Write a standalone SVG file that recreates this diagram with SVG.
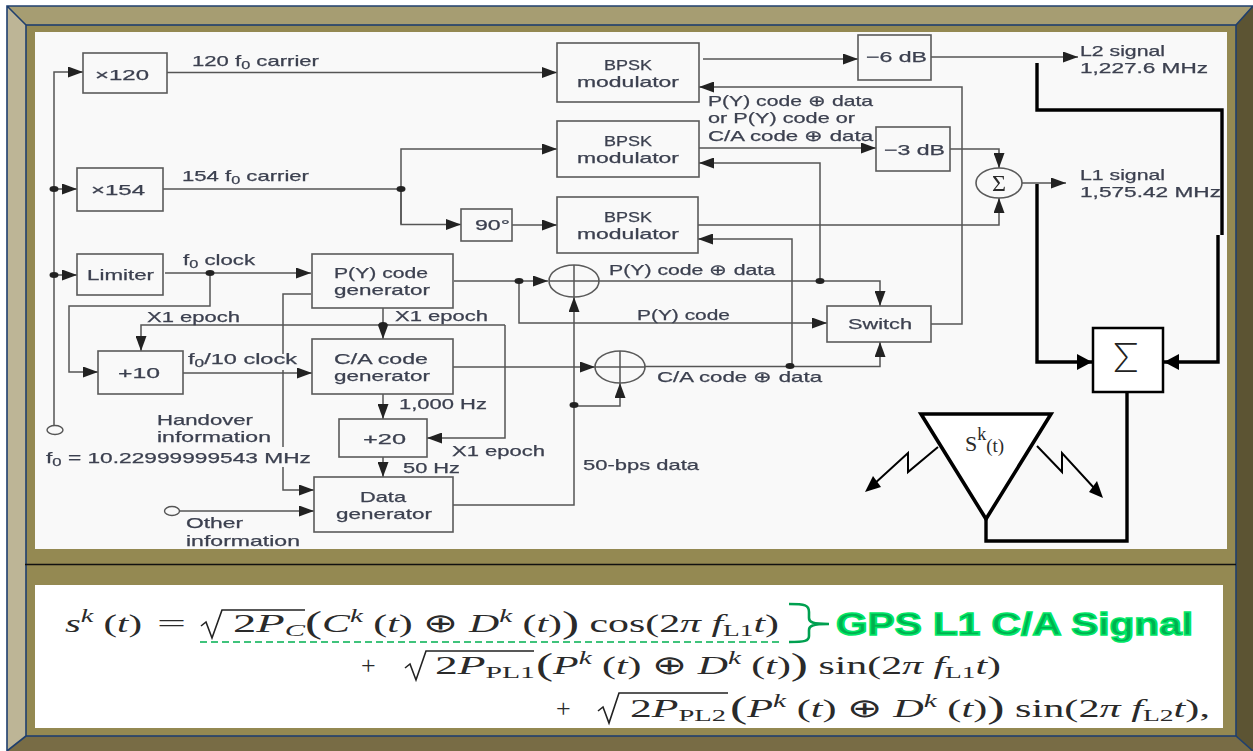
<svg xmlns="http://www.w3.org/2000/svg" width="1253" height="751" viewBox="0 0 1253 751">
<style>
.t{font-family:"Liberation Sans",Arial,sans-serif;font-size:15px;fill:#3c4150;stroke:#3c4150;stroke-width:.25}
.c{text-anchor:middle}
.b{fill:#f9f9f9;stroke:#5a5a5a;stroke-width:1.6}
.l{fill:none;stroke:#555;stroke-width:1.5}
.a{marker-end:url(#ah)}
.k{fill:none;stroke:#000;stroke-width:3.4}
.ka{marker-end:url(#kh)}
.z{fill:none;stroke:#000;stroke-width:2}
.d{fill:#222}
.m{font-family:"Liberation Serif",serif;fill:#2a2a2a}
.f{font-family:"Liberation Serif",serif;font-size:26px;fill:#2a2a2a}
.i{font-style:italic}
.frame{fill:none;stroke:#1f3f6e;stroke-width:1.6}
</style>
<defs>
<marker id="ah" markerUnits="userSpaceOnUse" markerWidth="15" markerHeight="11" refX="15" refY="5.5" orient="auto"><path d="M0 0L15 5.5L0 11Z" fill="#222"/></marker>
<marker id="kh" markerUnits="userSpaceOnUse" markerWidth="16" markerHeight="16" refX="15" refY="8" orient="auto"><path d="M0 0L15 8L0 16Z" fill="#000"/></marker>
<filter id="soft" x="-5%" y="-5%" width="110%" height="110%"><feGaussianBlur stdDeviation="0.45"/></filter>
</defs>
<g id="frame">
<rect width="1253" height="751" fill="#fff"/>
<polygon points="7,6 1253,6 1236,25 26,25" fill="#a69d72"/>
<polygon points="7,6 26,25 26,736 7,751" fill="#bdb596"/>
<polygon points="1253,6 1253,751 1236,736 1236,25" fill="#5c5433"/>
<polygon points="7,751 26,736 1236,736 1253,751" fill="#786c45"/>
<rect x="26" y="25" width="1210" height="711" fill="#948952"/>
<path class="frame" d="M7 751V6H1253M7 6L26 25M1253 6L1236 25M7 751L26 736M1253 751L1236 736"/>
<rect class="frame" x="26" y="25" width="1210" height="711"/>
<path d="M25 564.500H1236" stroke="#111" stroke-width="1.500"/>
<rect x="35" y="32" width="1192" height="517" fill="#f9f9f9"/>
<rect x="35" y="585" width="1188" height="143" fill="#fff"/>
</g>
<g id="diagram" filter="url(#soft)">
<g id="connectors">
<path class="l a" d="M54 425V72H83"/>
<path class="l a" d="M54 189H77"/>
<path class="l a" d="M54 275H77"/>
<path class="l a" d="M167 72.500H557"/>
<path class="l" d="M163 189H401"/>
<path class="l a" d="M401 224V149H557"/>
<path class="l a" d="M401 189V224.500H461"/>
<path class="l a" d="M512 225H557"/>
<path class="l a" d="M165 273H311"/>
<path class="l a" d="M210 273V306H69V372H98"/>
<path class="l a" d="M183 373H312"/>
<path class="l a" d="M454 281H548"/>
<path class="l a" d="M519 281V323H827"/>
<path class="l a" d="M599 281H880V306"/>
<path class="l a" d="M820 281V163H699"/>
<path class="l a" d="M792 366V239H698"/>
<path class="l a" d="M453 367H595"/>
<path class="l a" d="M645 366.500H880V342"/>
<path class="l" d="M311 294H283V354"/>
<path class="l" d="M283 370V447"/>
<path class="l a" d="M283 467V490H314"/>
<path class="l a" d="M383 308V339"/>
<path class="l a" d="M505 325H141V351"/>
<path class="l a" d="M505 325V438H427"/>
<path class="l a" d="M383 394V419"/>
<path class="l a" d="M383 457V477"/>
<path class="l a" d="M453 505H574V297"/>
<path class="l a" d="M574 406H620V383"/>
<path class="l a" d="M179 511H314"/>
<path class="l a" d="M703 59H858"/>
<path class="l a" d="M931 57H1078"/>
<path class="l a" d="M931 324H962V87H699"/>
<path class="l a" d="M699 148H876"/>
<path class="l a" d="M950 149H999V168"/>
<path class="l a" d="M698 225H999V198"/>
<path class="l a" d="M1022 183H1066"/>
<ellipse class="d" cx="54" cy="189" rx="4.500" ry="3"/>
<ellipse class="d" cx="54" cy="275" rx="4.500" ry="3"/>
<ellipse class="d" cx="401" cy="189" rx="4.500" ry="3"/>
<ellipse class="d" cx="210" cy="273" rx="4.500" ry="3"/>
<ellipse class="d" cx="519" cy="281" rx="4.500" ry="3"/>
<ellipse class="d" cx="820" cy="281" rx="4.500" ry="3"/>
<ellipse class="d" cx="790" cy="366" rx="4.500" ry="3"/>
<ellipse class="d" cx="383" cy="325" rx="4.500" ry="3"/>
<ellipse class="d" cx="574" cy="405" rx="4.500" ry="3"/>
<ellipse cx="55" cy="430" rx="8" ry="4.500" fill="#f9f9f9" stroke="#555" stroke-width="1.400"/>
<ellipse cx="172" cy="511" rx="7.500" ry="4.500" fill="#f9f9f9" stroke="#555" stroke-width="1.400"/>
</g>
<g id="n-x120"><rect class="b" x="83" y="53" width="84" height="40"/><text class="t" x="95" y="80" textLength="54" lengthAdjust="spacingAndGlyphs">×120</text></g>
<g id="n-x154"><rect class="b" x="77" y="168" width="86" height="43"/><text class="t" x="91" y="195" textLength="54" lengthAdjust="spacingAndGlyphs">×154</text></g>
<g id="n-limiter"><rect class="b" x="77" y="254" width="86" height="41"/><text class="t" x="87" y="280" textLength="67" lengthAdjust="spacingAndGlyphs">Limiter</text></g>
<g id="n-py"><rect class="b" x="312" y="254" width="141" height="54"/><text class="t" x="334" y="278" textLength="94" lengthAdjust="spacingAndGlyphs">P(Y) code</text><text class="t" x="334" y="295" textLength="96" lengthAdjust="spacingAndGlyphs">generator</text></g>
<g id="n-div10"><rect class="b" x="98" y="351" width="85" height="43"/><text class="t" x="118" y="378" textLength="42" lengthAdjust="spacingAndGlyphs">+10</text></g>
<g id="n-ca"><rect class="b" x="312" y="339" width="141" height="55"/><text class="t" x="334" y="364" textLength="94" lengthAdjust="spacingAndGlyphs">C/A code</text><text class="t" x="334" y="381" textLength="96" lengthAdjust="spacingAndGlyphs">generator</text></g>
<g id="n-div20"><rect class="b" x="339" y="419" width="88" height="38"/><text class="t" x="363" y="444" textLength="43" lengthAdjust="spacingAndGlyphs">+20</text></g>
<g id="n-data"><rect class="b" x="314" y="477" width="139" height="55"/><text class="t" x="360" y="502" textLength="46" lengthAdjust="spacingAndGlyphs">Data</text><text class="t" x="336" y="519" textLength="96" lengthAdjust="spacingAndGlyphs">generator</text></g>
<g id="n-bpsk1"><rect class="b" x="557" y="43" width="142" height="59"/><text class="t" x="604" y="70" textLength="48" lengthAdjust="spacingAndGlyphs">BPSK</text><text class="t" x="577" y="87" textLength="102" lengthAdjust="spacingAndGlyphs">modulator</text></g>
<g id="n-bpsk2"><rect class="b" x="557" y="121" width="142" height="56"/><text class="t" x="604" y="146" textLength="48" lengthAdjust="spacingAndGlyphs">BPSK</text><text class="t" x="577" y="163" textLength="102" lengthAdjust="spacingAndGlyphs">modulator</text></g>
<g id="n-bpsk3"><rect class="b" x="557" y="197" width="141" height="56"/><text class="t" x="604" y="222" textLength="48" lengthAdjust="spacingAndGlyphs">BPSK</text><text class="t" x="577" y="239" textLength="102" lengthAdjust="spacingAndGlyphs">modulator</text></g>
<g id="n-90"><rect class="b" x="461" y="209" width="51" height="32"/><text class="t" x="475" y="230" textLength="35" lengthAdjust="spacingAndGlyphs">90°</text></g>
<g id="n-6db"><rect class="b" x="858" y="35" width="73" height="45"/><text class="t" x="866" y="62" textLength="61" lengthAdjust="spacingAndGlyphs">−6 dB</text></g>
<g id="n-3db"><rect class="b" x="876" y="127" width="74" height="44"/><text class="t" x="884" y="155" textLength="61" lengthAdjust="spacingAndGlyphs">−3 dB</text></g>
<g id="n-sum1"><ellipse class="b" cx="999" cy="183" rx="23" ry="15"/><text class="m c" x="999" y="191" font-size="24">Σ</text></g>
<g id="n-switch"><rect class="b" x="827" y="306" width="104" height="36"/><text class="t" x="848" y="329" textLength="64" lengthAdjust="spacingAndGlyphs">Switch</text></g>
<g id="n-xor1"><ellipse class="b" cx="574" cy="281" rx="25" ry="16"/><path class="l" d="M574 265V297M549 281H599"/></g>
<g id="n-xor2"><ellipse class="b" cx="620" cy="367" rx="25" ry="16"/><path class="l" d="M620 351V383M595 367H645"/></g>
<g id="labels">
<text class="t" x="192" y="66" textLength="127" lengthAdjust="spacingAndGlyphs">120 f<tspan dy="3" font-size="11">0</tspan><tspan dy="-3"> carrier</tspan></text>
<text class="t" x="182" y="181" textLength="127" lengthAdjust="spacingAndGlyphs">154 f<tspan dy="3" font-size="11">0</tspan><tspan dy="-3"> carrier</tspan></text>
<text class="t" x="183" y="265" textLength="72" lengthAdjust="spacingAndGlyphs">f<tspan dy="3" font-size="11">0</tspan><tspan dy="-3"> clock</tspan></text>
<text class="t" x="188" y="364" textLength="109" lengthAdjust="spacingAndGlyphs">f<tspan dy="3" font-size="11">0</tspan><tspan dy="-3">/10 clock</tspan></text>
<text class="t" x="147" y="322" textLength="93" lengthAdjust="spacingAndGlyphs">X1 epoch</text>
<text class="t" x="395" y="321" textLength="93" lengthAdjust="spacingAndGlyphs">X1 epoch</text>
<text class="t" x="452" y="456" textLength="93" lengthAdjust="spacingAndGlyphs">X1 epoch</text>
<text class="t" x="399" y="409" textLength="88" lengthAdjust="spacingAndGlyphs">1,000 Hz</text>
<text class="t" x="403" y="473" textLength="57" lengthAdjust="spacingAndGlyphs">50 Hz</text>
<text class="t" x="583" y="470" textLength="116" lengthAdjust="spacingAndGlyphs">50-bps data</text>
<text class="t" x="157" y="425" textLength="96" lengthAdjust="spacingAndGlyphs">Handover</text>
<text class="t" x="157" y="442" textLength="114" lengthAdjust="spacingAndGlyphs">information</text>
<text class="t" x="46" y="463" textLength="265" lengthAdjust="spacingAndGlyphs">f<tspan dy="3" font-size="11">0</tspan><tspan dy="-3"> = 10.22999999543 MHz</tspan></text>
<text class="t" x="186" y="528" textLength="57" lengthAdjust="spacingAndGlyphs">Other</text>
<text class="t" x="186" y="546" textLength="114" lengthAdjust="spacingAndGlyphs">information</text>
<text class="t" x="708" y="106" textLength="165" lengthAdjust="spacingAndGlyphs">P(Y) code ⊕ data</text>
<text class="t" x="708" y="123" textLength="147" lengthAdjust="spacingAndGlyphs">or P(Y) code or</text>
<text class="t" x="708" y="141" textLength="165" lengthAdjust="spacingAndGlyphs">C/A code ⊕ data</text>
<text class="t" x="609" y="275" textLength="166" lengthAdjust="spacingAndGlyphs">P(Y) code ⊕ data</text>
<text class="t" x="637" y="320" textLength="93" lengthAdjust="spacingAndGlyphs">P(Y) code</text>
<text class="t" x="657" y="382" textLength="165" lengthAdjust="spacingAndGlyphs">C/A code ⊕ data</text>
<text class="t" x="1080" y="56" textLength="85" lengthAdjust="spacingAndGlyphs">L2 signal</text>
<text class="t" x="1080" y="73" textLength="128" lengthAdjust="spacingAndGlyphs">1,227.6 MHz</text>
<text class="t" x="1080" y="180" textLength="85" lengthAdjust="spacingAndGlyphs">L1 signal</text>
<text class="t" x="1080" y="197" textLength="141" lengthAdjust="spacingAndGlyphs">1,575.42 MHz</text>
</g>
</g>
<g id="overlay">
<path class="k" d="M1037 63V110H1222V235"/>
<path class="k ka" d="M1218 235V362H1164"/>
<path class="k ka" d="M1037 184V362H1092"/>
<path class="k" d="M1127 392V541H986V519"/>
<g id="n-sum2"><rect x="1093" y="328" width="70" height="64" fill="#fff" stroke="#000" stroke-width="2.500"/><text x="1126" y="372" font-family="Lato,'Open Sans',sans-serif" font-weight="300" font-size="42" text-anchor="middle" fill="#222">Σ</text></g>
<g id="n-antenna"><polygon points="921,414 1051,414 986,519" fill="#fff" stroke="#000" stroke-width="3.600"/><text class="m" x="965" y="451" font-size="22">S<tspan font-size="18" dy="-11">k</tspan><tspan font-size="19" dy="12">(t)</tspan></text></g>
<path class="z" d="M938 447L908 472V453L873 485"/>
<path class="z" d="M1037 446L1062 472V453L1095 489"/>
<polygon points="865,492 873,476 881,487" fill="#000"/>
<polygon points="1103,498 1089,492 1097,481" fill="#000"/>
</g>
<g id="formula">
<text class="f" x="65" y="632" textLength="77" lengthAdjust="spacingAndGlyphs"><tspan class="i">s</tspan><tspan class="i" font-size="18" dy="-10">k</tspan><tspan dy="10"> (</tspan><tspan class="i">t</tspan><tspan>)</tspan></text>
<text class="f" x="157" y="632" textLength="29" lengthAdjust="spacingAndGlyphs">=</text>
<path d="M201 626L206 622L212 638L222 610H305" fill="none" stroke="#222" stroke-width="1.600"/>
<text class="f" x="233" y="632" textLength="72" lengthAdjust="spacingAndGlyphs">2<tspan class="i">P</tspan><tspan class="i" font-size="17" dy="4">C</tspan></text>
<text class="f" x="305" y="632" textLength="474" lengthAdjust="spacingAndGlyphs"><tspan font-size="32" dy="1">(</tspan><tspan class="i" dy="-1">C</tspan><tspan class="i" font-size="18" dy="-10">k</tspan><tspan dy="10"> (</tspan><tspan class="i">t</tspan><tspan>) ⊕ </tspan><tspan class="i">D</tspan><tspan class="i" font-size="18" dy="-10">k</tspan><tspan dy="10"> (</tspan><tspan class="i">t</tspan><tspan>)</tspan><tspan font-size="32" dy="1">)</tspan><tspan dy="-1"> cos(2</tspan><tspan class="i">π f</tspan><tspan font-size="17" dy="4">L1</tspan><tspan class="i" dy="-4">t</tspan><tspan>)</tspan></text>
<text class="f" x="361" y="674">+</text>
<path d="M405 668L410 664L416 680L426 651H534" fill="none" stroke="#222" stroke-width="1.600"/>
<text class="f" x="435" y="674" textLength="100" lengthAdjust="spacingAndGlyphs">2<tspan class="i">P</tspan><tspan font-size="17" dy="4">PL1</tspan></text>
<text class="f" x="536" y="674" textLength="465" lengthAdjust="spacingAndGlyphs"><tspan font-size="32" dy="1">(</tspan><tspan class="i" dy="-1">P</tspan><tspan class="i" font-size="18" dy="-10">k</tspan><tspan dy="10"> (</tspan><tspan class="i">t</tspan><tspan>) ⊕ </tspan><tspan class="i">D</tspan><tspan class="i" font-size="18" dy="-10">k</tspan><tspan dy="10"> (</tspan><tspan class="i">t</tspan><tspan>)</tspan><tspan font-size="32" dy="1">)</tspan><tspan dy="-1"> sin(2</tspan><tspan class="i">π f</tspan><tspan font-size="17" dy="4">L1</tspan><tspan class="i" dy="-4">t</tspan><tspan>)</tspan></text>
<text class="f" x="556" y="717">+</text>
<path d="M598 711L603 707L609 723L619 693H728" fill="none" stroke="#222" stroke-width="1.600"/>
<text class="f" x="630" y="717" textLength="96" lengthAdjust="spacingAndGlyphs">2<tspan class="i">P</tspan><tspan font-size="17" dy="4">PL2</tspan></text>
<text class="f" x="730" y="717" textLength="480" lengthAdjust="spacingAndGlyphs"><tspan font-size="32" dy="1">(</tspan><tspan class="i" dy="-1">P</tspan><tspan class="i" font-size="18" dy="-10">k</tspan><tspan dy="10"> (</tspan><tspan class="i">t</tspan><tspan>) ⊕ </tspan><tspan class="i">D</tspan><tspan class="i" font-size="18" dy="-10">k</tspan><tspan dy="10"> (</tspan><tspan class="i">t</tspan><tspan>)</tspan><tspan font-size="32" dy="1">)</tspan><tspan dy="-1"> sin(2</tspan><tspan class="i">π f</tspan><tspan font-size="17" dy="4">L2</tspan><tspan class="i" dy="-4">t</tspan><tspan>),</tspan></text>
<path d="M200 642H783" stroke="#00b050" stroke-width="1.600" stroke-dasharray="7 4" fill="none"/>
<path d="M789 604C805 604 809 605 809 612V618C809 622 812 624 829 624C812 624 809 626 809 630V636C809 641 805 642 789 642" fill="none" stroke="#00a050" stroke-width="2.600"/>
<text x="836" y="635" textLength="357" lengthAdjust="spacingAndGlyphs" font-family="Liberation Sans, sans-serif" font-weight="bold" font-size="32" fill="#00b050" stroke="#00e868" stroke-width="1.500">GPS L1 C/A Signal</text>
</g>
</svg>
